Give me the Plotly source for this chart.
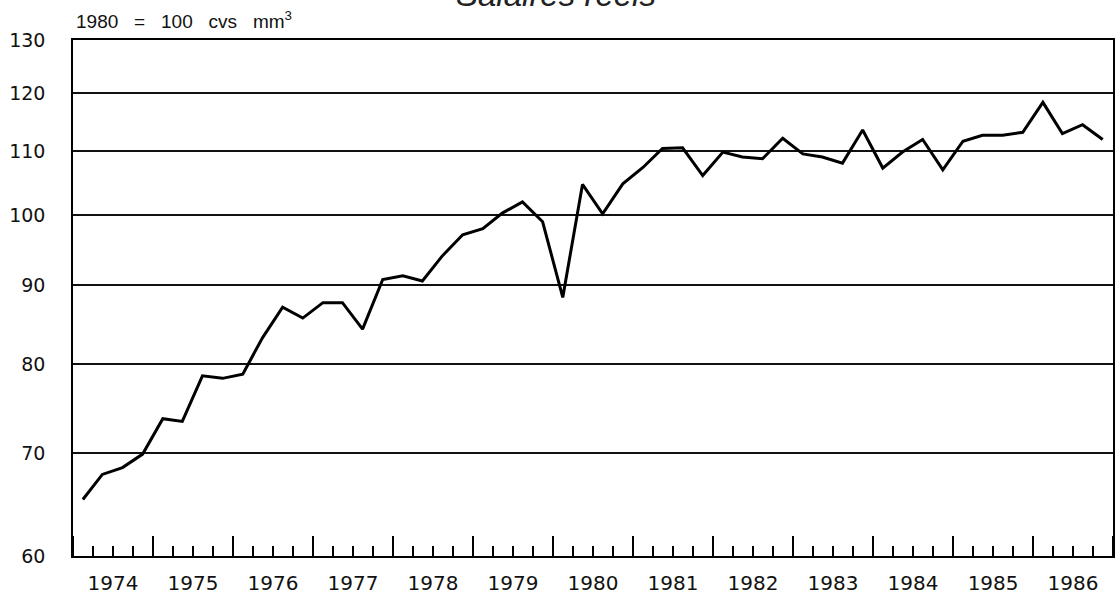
import plotly.graph_objects as go
import math

years = list(range(1974, 1987))
quarters = ["Q1", "Q2", "Q3", "Q4"]
values = [
    65.3, 67.8, 68.5, 69.9,
    73.7, 73.4, 78.6, 78.3,
    78.8, 83.2, 87.1, 85.7,
    87.7, 87.7, 84.3, 90.8,
    91.3, 90.6, 94.1, 97.1,
    98.0, 100.3, 102.0, 99.0,
    88.4, 104.7, 100.2, 104.8,
    107.4, 110.5, 110.6, 106.1,
    109.9, 109.1, 108.8, 112.2,
    109.6, 109.1, 108.1, 113.6,
    107.3, 109.9, 112.0, 107.0,
    111.7, 112.7, 112.7, 113.2,
    118.4, 113.0, 114.5, 112.0,
]
y_ticks = [60, 70, 80, 90, 100, 110, 120, 130]

mid_month = {"Q1": "02-15", "Q2": "05-15", "Q3": "08-15", "Q4": "11-15"}
x_dates = [f"{y}-{mid_month[q]}" for y in years for q in quarters]

fig = go.Figure()
fig.add_trace(go.Scatter(
    x=x_dates, y=values, mode="lines",
    line=dict(color="black", width=3),
    hoverinfo="skip", showlegend=False,
))

fig.update_layout(
    width=1117, height=599,
    margin=dict(l=73, r=4, t=40, b=43),
    paper_bgcolor="white", plot_bgcolor="white",
    font=dict(family="DejaVu Sans", color="#111"),
    xaxis=dict(
        type="date", automargin=False,
        range=[f"{years[0]}-01-01", f"{years[-1] + 1}-01-01"],
        tick0=f"{years[0]}-01-01", dtick="M12",
        ticklabelmode="period", tickformat="%Y",
        ticks="inside", ticklen=20, tickwidth=1.5, tickcolor="black",
        minor=dict(dtick="M3", ticks="inside", ticklen=10, tickwidth=1.5,
                   tickcolor="black", showgrid=False),
        showgrid=False, zeroline=False,
        showline=True, linecolor="black", linewidth=1.5, mirror=True,
        tickfont=dict(family="DejaVu Sans", size=20, color="#111"),
        ticklabelstandoff=8,
    ),
    yaxis=dict(
        type="log", automargin=False,
        range=[math.log10(y_ticks[0]), math.log10(y_ticks[-1])],
        tickvals=y_ticks, ticktext=[str(v) for v in y_ticks],
        ticks="", showgrid=True, gridcolor="#111", gridwidth=1.5,
        zeroline=False,
        showline=True, linecolor="black", linewidth=1.5, mirror=True,
        tickfont=dict(family="DejaVu Sans", size=19, color="#111"),
        ticklabelstandoff=22,
    ),
    annotations=[
        dict(text="<i>Salaires réels</i>", xref="paper", yref="paper",
             x=0.4644, y=1.0484, xanchor="center", yanchor="bottom",
             showarrow=False,
             font=dict(family="Liberation Sans", size=33, color="#222")),
        dict(text="1980\u00a0\u00a0\u00a0=\u00a0\u00a0\u00a0100\u00a0\u00a0\u00a0cvs\u00a0\u00a0\u00a0mm<sup>3</sup>",
             xref="paper", yref="paper",
             x=0.001, y=1.0116, xanchor="left", yanchor="bottom",
             showarrow=False,
             font=dict(family="Liberation Sans", size=19, color="#111")),
    ],
)

fig.write_html(
    "out.html",
    config={"displayModeBar": False},
    post_script="document.body.style.margin='0';document.body.style.overflow='hidden';",
)
